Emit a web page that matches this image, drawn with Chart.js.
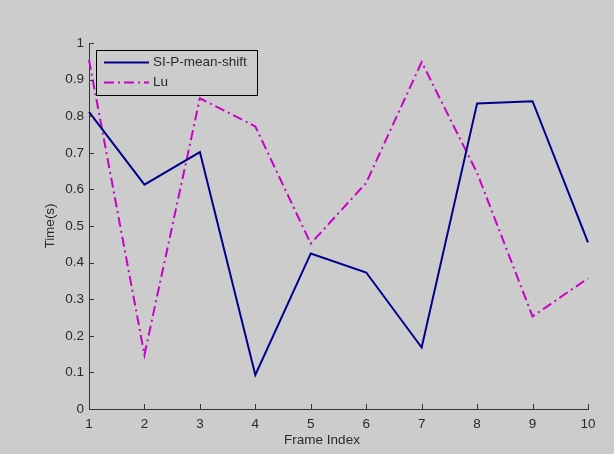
<!DOCTYPE html>
<html>
<head>
<meta charset="utf-8">
<script src="https://cdn.jsdelivr.net/npm/chart.js@4/dist/chart.umd.min.js"></script>
<style>
  html, body { margin: 0; padding: 0; background: #cccccc; }
  #wrap { width: 614px; height: 454px; }
</style>
</head>
<body>
<div id="wrap"><canvas id="grafica" width="614" height="454"></canvas></div>
<script>
var frames = ['1', '2', '3', '4', '5', '6', '7', '8', '9', '10'];
var siP = [0.812, 0.613, 0.702, 0.093, 0.425, 0.373, 0.168, 0.835, 0.841, 0.455];
var lu = [0.954, 0.148, 0.849, 0.772, 0.452, 0.618, 0.948, 0.645, 0.253, 0.357];
var yLabels = ['0', '0.1', '0.2', '0.3', '0.4', '0.5', '0.6', '0.7', '0.8', '0.9', '1'];
var serieNames = ['SI-P-mean-shift', 'Lu'];
var xTitulo = 'Frame Index';

var fuente = { family: 'Liberation Sans, Arial, sans-serif', size: 13.5 };
var colorTexto = '#2a2a2a';

// ticks hacia adentro, titulo x y leyenda con marco, como en matlab
var marcas = {
    id: 'marcas',
    afterDraw: function(chart){
        var ctx = chart.ctx;
        var xs = chart.scales.x;
        var ys = chart.scales.y;
        var area = chart.chartArea;
        ctx.save();
        ctx.strokeStyle = '#333333';
        ctx.lineWidth = 1;
        ctx.beginPath();
        for (var i = 0; i < frames.length; i++){
            var px = Math.round(xs.getPixelForValue(i)) + 0.5;
            ctx.moveTo(px, area.bottom);
            ctx.lineTo(px, area.bottom - 5);
        }
        for (var j = 0; j < yLabels.length; j++){
            var py = Math.round(ys.getPixelForValue(parseFloat(yLabels[j]))) + 0.5;
            ctx.moveTo(area.left, py);
            ctx.lineTo(area.left + 5, py);
        }
        ctx.stroke();

        ctx.font = '13.5px Liberation Sans, Arial, sans-serif';
        ctx.fillStyle = colorTexto;
        ctx.textAlign = 'center';
        ctx.textBaseline = 'middle';
        ctx.fillText(xTitulo, 322, 440);

        // leyenda
        var lx = 96.5, ly = 50.5, lw = 161, lh = 45;
        ctx.fillStyle = '#cccccc';
        ctx.fillRect(lx, ly, lw, lh);
        ctx.strokeStyle = '#000000';
        ctx.strokeRect(lx, ly, lw, lh);
        var ds = chart.data.datasets;
        ctx.textAlign = 'left';
        for (var k = 0; k < ds.length; k++){
            var y = 62.5 + k * 20;
            ctx.beginPath();
            ctx.strokeStyle = ds[k].borderColor;
            ctx.lineWidth = ds[k].borderWidth;
            ctx.setLineDash(ds[k].borderDash || []);
            ctx.moveTo(104, y);
            ctx.lineTo(149, y);
            ctx.stroke();
            ctx.setLineDash([]);
            ctx.fillStyle = colorTexto;
            ctx.fillText(ds[k].label, 153, y);
        }
        ctx.restore();
    }
};

var ctx = document.getElementById('grafica').getContext('2d');

var grafica = new Chart(ctx, {
    type: 'line',
    data: {
        labels: frames,
        datasets: [{
            label: serieNames[0],
            data: siP,
            borderColor: '#00008c',
            borderWidth: 2,
            pointRadius: 0,
            tension: 0,
            fill: false
        }, {
            label: serieNames[1],
            data: lu,
            borderColor: '#c800c8',
            borderWidth: 2,
            borderDash: [10, 4, 2, 4],
            pointRadius: 0,
            tension: 0,
            fill: false
        }]
    },
    options: {
        responsive: false,
        animation: false,
        layout: { padding: { left: 0, top: 43, right: 26, bottom: 0 } },
        plugins: {
            legend: { display: false },
            tooltip: { enabled: false }
        },
        scales: {
            x: {
                offset: false,
                grid: { drawOnChartArea: false, drawTicks: false },
                border: { display: true, color: '#333333', width: 1 },
                ticks: { color: colorTexto, font: fuente, padding: 7, maxRotation: 0, autoSkip: false },
                afterFit: function(scale){ scale.height = 45; }
            },
            y: {
                min: 0,
                max: 1,
                grid: { drawOnChartArea: false, drawTicks: false },
                border: { display: true, color: '#333333', width: 1 },
                ticks: {
                    stepSize: 0.1,
                    color: colorTexto,
                    font: fuente,
                    padding: 5,
                    callback: function(value, index){ return yLabels[index]; }
                },
                title: { display: true, text: 'Time(s)', color: colorTexto, font: fuente, padding: { top: 42, bottom: 0 } },
                afterFit: function(scale){ scale.width = 89; }
            }
        }
    },
    plugins: [marcas]
});
</script>
</body>
</html>
